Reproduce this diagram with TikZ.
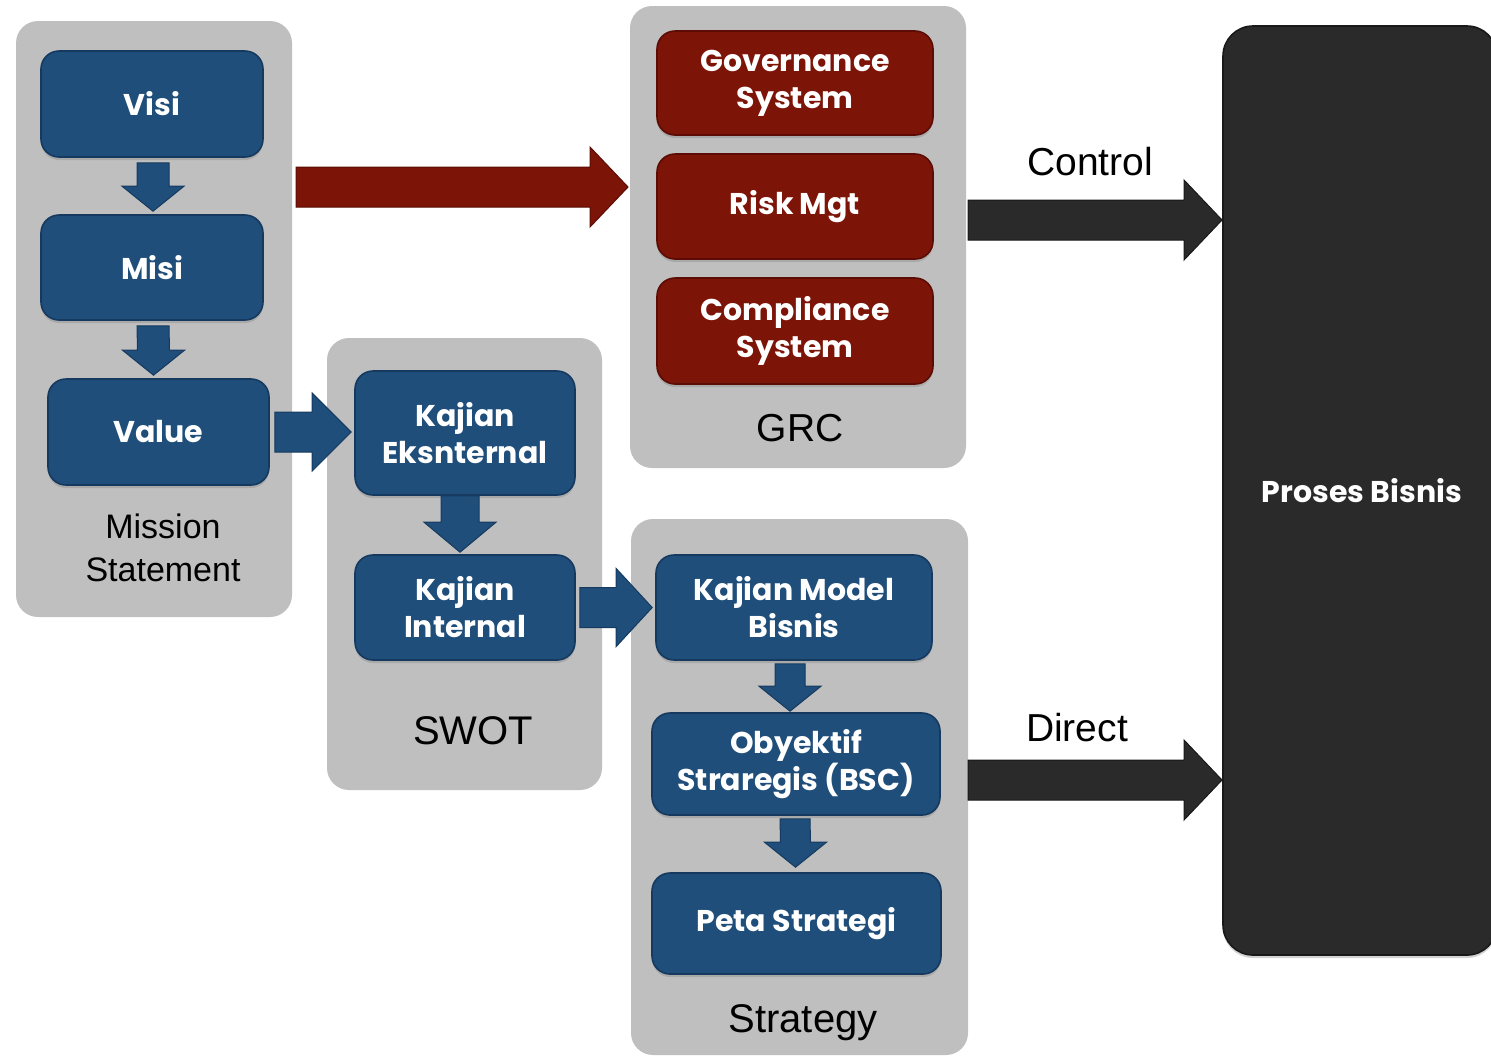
\documentclass[tikz,border=0pt]{standalone}
\usepackage{fontspec}
\setmainfont{Liberation Sans}
\newfontfamily\bxfont{Poppins}
\usetikzlibrary{fit,calc,shadows}
\definecolor{bblue}{RGB}{31,78,122}
\definecolor{bblueD}{RGB}{22,58,95}
\definecolor{rred}{RGB}{124,20,8}
\definecolor{rredD}{RGB}{92,12,4}
\definecolor{dgray}{RGB}{42,42,42}
\definecolor{dgrayD}{RGB}{25,25,25}
\definecolor{pgray}{RGB}{191,191,191}
\newcommand\harr[6]{%
  \filldraw[#1] ($(#2)+(0,-#4)$) -- ($(#3)+(-#6,-#4)$) -- ($(#3)+(-#6,-#5)$) -- (#3)
  -- ($(#3)+(-#6,#5)$) -- ($(#3)+(-#6,#4)$) -- ($(#2)+(0,#4)$) -- cycle;}
\newcommand\varr[6]{%
  \filldraw[#1] ($(#2)+(-#4,0)$) -- ($(#3)+(-#4,-#6)$) -- ($(#3)+(-#5,-#6)$) -- (#3)
  -- ($(#3)+(#5,-#6)$) -- ($(#3)+(#4,-#6)$) -- ($(#2)+(#4,0)$) -- cycle;}
\tikzset{
  panel/.style={fill=pgray, rounded corners=11pt, inner sep=0pt},
  bbox/.style={fill=bblue, draw=bblueD, line width=0.8pt, rounded corners=9pt, inner sep=0pt,
    text=white, align=center, font=\bxfont\bfseries\fontsize{15}{18.5}\selectfont,
    drop shadow={opacity=0.35, shadow xshift=0pt, shadow yshift=-1.5pt}},
  rbox/.style={bbox, fill=rred, draw=rredD},
  ptext/.style={font=\fontsize{19.5}{21.5}\selectfont, align=center, inner sep=0pt},
  barrow/.style={fill=bblue, draw=bblueD, line width=0.5pt, line join=miter},
  rarrow/.style={fill=rred, draw=rredD, line width=0.5pt, line join=miter},
  karrow/.style={fill=dgray, draw=dgrayD, line width=0.5pt, line join=miter},
}
\begin{document}
\begin{tikzpicture}[x=0.5pt,y=-0.5pt]
\useasboundingbox (0,0) rectangle (1491,1057);
% panels
\node[panel, fit={(16,21) (292,617)}] (ms) {};
\node[panel, fit={(630,6) (966,468)}] (grc) {};
\node[panel, fit={(327,338) (602,790)}] (swot) {};
\node[panel, fit={(631,519) (968,1055)}] (strat) {};
% proses bisnis
\node[bbox, fill=dgray, draw=dgrayD, rounded corners=15pt, minimum width=137pt, minimum height=464.5pt] (proses) at (1360,490.5) {\hspace*{2pt}Proses Bisnis};
% mission statement
\node[bbox, minimum width=111pt, minimum height=53pt] (visi) at (152,104) {Visi};
\node[bbox, minimum width=111pt, minimum height=52.5pt] (misi) at (152,267.5) {Misi};
\node[bbox, minimum width=110.5pt, minimum height=53pt] (value) at (158.5,432) {Value};
\node[ptext, font=\fontsize{17}{21.5}\selectfont] (mst) at (163,548) {Mission\\Statement};
% GRC
\node[rbox, minimum width=138pt, minimum height=52pt] (gov) at (795,83) {Governance\\System};
\node[rbox, minimum width=138pt, minimum height=52.5pt] (risk) at (795,206.5) {Risk Mgt};
\node[rbox, minimum width=138pt, minimum height=53pt] (comp) at (795,331) {Compliance\\System};
\node[ptext] (grct) at (800,428) {GRC};
% SWOT
\node[bbox, minimum width=110pt, minimum height=62pt] (ke) at (465,433) {Kajian\\Eksnternal};
\node[bbox, minimum width=110pt, minimum height=52.5pt] (ki) at (465,607.5) {Kajian\\Internal};
\node[ptext, font=\fontsize{20}{22}\selectfont] (swott) at (473,731) {SWOT};
% Strategy
\node[bbox, minimum width=138pt, minimum height=52.5pt] (km) at (794,607.5) {Kajian Model\\Bisnis};
\node[bbox, minimum width=144pt, minimum height=51pt] (ob) at (796,764) {Obyektif\\Straregis (BSC)};
\node[bbox, minimum width=144.5pt, minimum height=50.5pt] (peta) at (796.5,923.5) {Peta Strategi};
\node[ptext, font=\fontsize{20}{22}\selectfont] (stratt) at (803,1023) {Strategy};
% labels
\node[ptext] (ctl) at (1090,162) {Control};
\node[ptext] (dir) at (1077,728) {Direct};
% down arrows
\coordinate (d1a) at ($(visi.south)+(1,5)$);  \coordinate (d1b) at ($(misi.north)+(1,-3)$);
\varr{barrow}{d1a}{d1b}{16}{31}{25}
\coordinate (d2a) at ($(misi.south)+(1,5)$);  \coordinate (d2b) at ($(value.north)+(-5,-3)$);
\varr{barrow}{d2a}{d2b}{16}{31}{25}
\coordinate (d3a) at ($(ke.south)+(-5,0)$);  \coordinate (d3b) at ($(ki.north)+(-5,-2)$);
\varr{barrow}{d3a}{d3b}{19}{36}{30}
\coordinate (d4a) at ($(km.south)+(-4,3)$);  \coordinate (d4b) at ($(ob.north)+(-6,-1)$);
\varr{barrow}{d4a}{d4b}{15}{31}{25}
\coordinate (d5a) at ($(ob.south)+(-1,3)$);  \coordinate (d5b) at ($(peta.north)+(-1,-5)$);
\varr{barrow}{d5a}{d5b}{15}{31}{25}
% horizontal arrows
\coordinate (h1a) at ($(value.east)+(5,0)$); \coordinate (h1b) at ($(ke.west |- value.east)+(-3,0)$);
\harr{barrow}{h1a}{h1b}{20}{39}{39}
\coordinate (h2a) at ($(ki.east)+(4,0)$); \coordinate (h2b) at ($(km.west)+(-3,0)$);
\harr{barrow}{h2a}{h2b}{20}{39}{36}
\coordinate (r1) at (296,187); \coordinate (r2) at (628,187);
\harr{rarrow}{r1}{r2}{20}{40}{38}
\coordinate (c1) at (968,220); \coordinate (c2) at (1222,220);
\harr{karrow}{c1}{c2}{20}{40}{38}
\coordinate (e1) at (968,780); \coordinate (e2) at (1222,780);
\harr{karrow}{e1}{e2}{20}{40}{38}
\end{tikzpicture}
\end{document}
